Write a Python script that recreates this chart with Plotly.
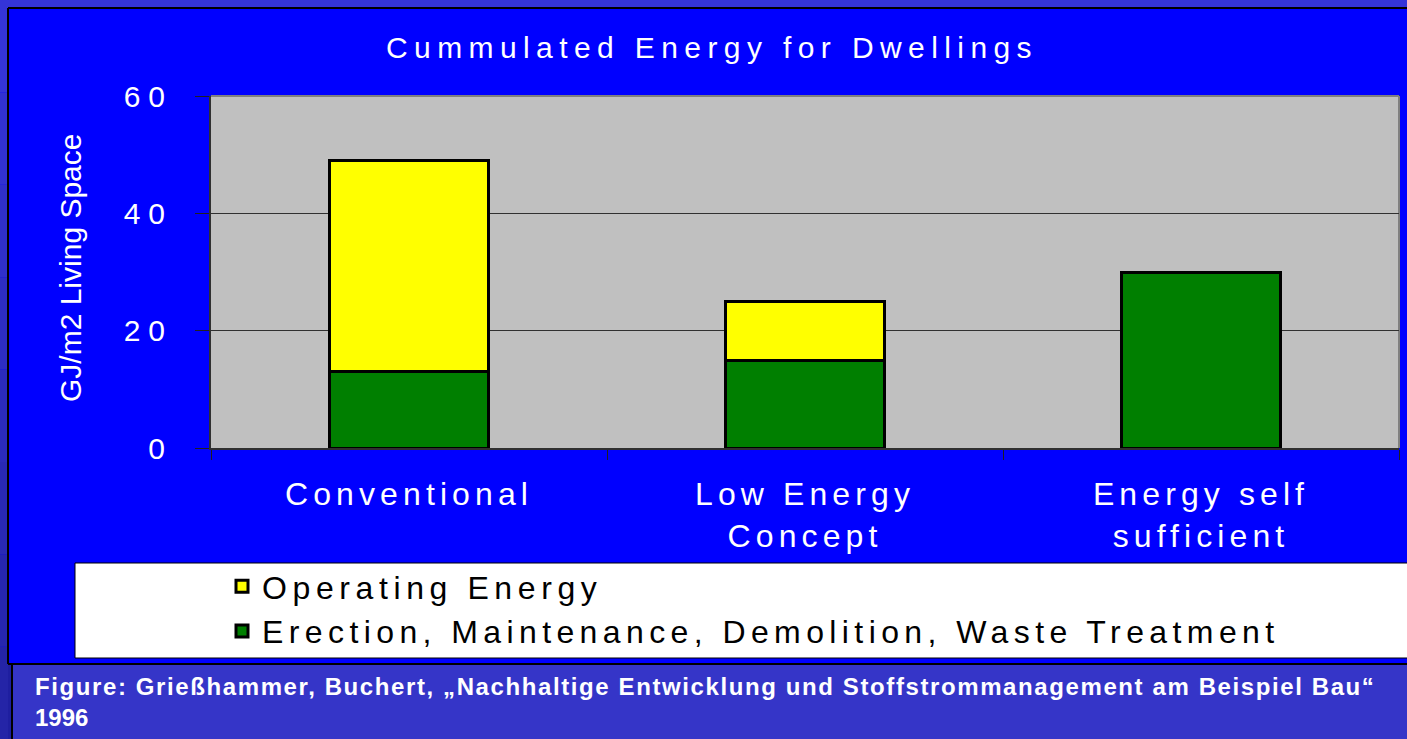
import plotly.graph_objects as go

# ---------------- data ----------------
categories = ["Conventional", "Low Energy<br>Concept", "Energy self<br>sufficient"]
erection_values = [13, 15, 30]
operating_values = [36, 10, None]
series_names = ["Operating Energy", "Erection, Maintenance, Demolition, Waste Treatment"]
y_tick_values = [0, 20, 40, 60]
y_tick_labels = ["0", "20", "40", "60"]
title_text = "Cummulated Energy for Dwellings"
y_title_text = "GJ/m2 Living Space"
caption_lines = ["Figure: Grießhammer, Buchert, „Nachhaltige Entwicklung und Stoffstrommanagement am Beispiel Bau“", "1996"]

# ---------------- layout geometry ----------------
W, H = 1407, 739
ML, MR, MT, MB = 211, 8, 96, 291
PW, PH = W - ML - MR, H - MT - MB


def px_x(p):
    return (p - ML) / PW


def px_y(p):
    return (H - MB - p) / PH


def spaced(text, px):
    return "<br>".join(
        f'<span style="letter-spacing:{px}px">{line}</span>' for line in text.split("<br>")
    )


FONT = "Liberation Sans, Arial, sans-serif"

fig = go.Figure()
fig.add_trace(go.Bar(
    x=categories, y=erection_values, name=spaced(series_names[1], 5.4),
    marker=dict(color="#007F00", line=dict(color="black", width=3)),
    legendrank=2, legendgroup="b",
))
fig.add_trace(go.Bar(
    x=categories, y=operating_values, name=spaced(series_names[0], 5.6),
    marker=dict(color="#FFFF00", line=dict(color="black", width=3)),
    legendrank=1, legendgroup="a",
))

shapes = []
# slide background pieces around the blue chart area
shapes.append(dict(type="rect", xref="paper", yref="paper", x0=px_x(0), x1=px_x(W + 20),
                   y0=px_y(0 - 20), y1=px_y(8), fillcolor="#3434D8", line_width=0, layer="below"))
steps = 8
for i in range(steps):
    y0p = i * H / steps
    y1p = (i + 1) * H / steps
    c = int(0x34 - i * 2.2)
    b = int(0xD8 - i * 7)
    shapes.append(dict(type="rect", xref="paper", yref="paper", x0=px_x(-20), x1=px_x(8),
                       y0=px_y(y1p), y1=px_y(y0p), fillcolor=f"rgb({c},{c},{b})",
                       line_width=0, layer="below"))
shapes.append(dict(type="rect", xref="paper", yref="paper", x0=px_x(8), x1=px_x(12),
                   y0=px_y(H + 20), y1=px_y(663), fillcolor="rgb(30,30,160)", line_width=0, layer="below"))
shapes.append(dict(type="rect", xref="paper", yref="paper", x0=px_x(12), x1=px_x(W + 20),
                   y0=px_y(H + 20), y1=px_y(664), fillcolor="#3535C8", line_width=0, layer="below"))
# black frame lines
for (x0, y0, x1, y1) in [(8, 8, W + 20, 8), (8, 8, 8, 664), (8, 664, W + 20, 664), (12, 664, 12, H + 20)]:
    shapes.append(dict(type="line", xref="paper", yref="paper", x0=px_x(x0), x1=px_x(x1),
                       y0=px_y(y0), y1=px_y(y1), line=dict(color="black", width=2), layer="below"))
# legend box
shapes.append(dict(type="rect", xref="paper", yref="paper", x0=px_x(75), x1=px_x(W + 20),
                   y0=px_y(658), y1=px_y(563), fillcolor="white",
                   line=dict(color="black", width=1), layer="below"))
# plot area border top/right (gray)
shapes.append(dict(type="line", xref="paper", yref="paper", x0=0, x1=1, y0=1, y1=1,
                   line=dict(color="#808080", width=2), layer="below"))
shapes.append(dict(type="line", xref="paper", yref="paper", x0=1, x1=1, y0=0, y1=1,
                   line=dict(color="#808080", width=2), layer="below"))

caption_html = ('<b><span style="letter-spacing:1.6px">' + caption_lines[0] + '</span><br>'
                + caption_lines[1] + '</b>')

annotations = [
    dict(text=y_title_text, xref="paper", yref="paper", x=px_x(70), y=px_y(268),
         xanchor="center", yanchor="middle", textangle=-90, showarrow=False,
         font=dict(family=FONT, size=30, color="white")),
    dict(text=caption_html, xref="paper", yref="paper",
         x=px_x(33), y=px_y(671), xanchor="left", yanchor="top", align="left", showarrow=False,
         font=dict(family=FONT, size=24, color="white")),
]

fig.update_layout(
    width=W, height=H,
    margin=dict(l=ML, r=MR, t=MT, b=MB, pad=0),
    paper_bgcolor="#0000FF",
    plot_bgcolor="#C0C0C0",
    barmode="stack",
    bargap=0.596,
    title=dict(text=spaced(title_text, 6.4), x=712 / W, xref="container",
               xanchor="center", y=1 - 47 / H, yanchor="middle",
               font=dict(family=FONT, size=30, color="white")),
    showlegend=True,
    legend=dict(
        x=px_x(222), y=px_y(559), xanchor="left", yanchor="top",
        bgcolor="rgba(0,0,0,0)", borderwidth=0,
        font=dict(family=FONT, size=32, color="black"),
        traceorder="normal", tracegroupgap=5,
    ),
    shapes=shapes,
    annotations=annotations,
    xaxis=dict(
        tickmode="array", tickvals=categories,
        ticktext=[spaced(c, 5.1) for c in categories],
        tickson="boundaries", ticks="outside", ticklen=10, tickcolor="#202020", tickwidth=1,
        showline=True, linecolor="#303030", linewidth=2,
        showgrid=False, ticklabelstandoff=17,
        tickfont=dict(family=FONT, size=32, color="white"),
        fixedrange=True,
    ),
    yaxis=dict(
        range=[0, 60], tickmode="array", tickvals=y_tick_values,
        ticktext=[spaced(t, 8) for t in y_tick_labels],
        ticks="outside", ticklen=14, tickcolor="#202020", tickwidth=1,
        showline=True, linecolor="#303030", linewidth=2,
        showgrid=True, gridcolor="#303030", gridwidth=1,
        zeroline=False, ticklabelstandoff=16,
        tickfont=dict(family=FONT, size=30, color="white"),
        fixedrange=True,
    ),
)

fig.write_html(
    "out.html",
    config={"displayModeBar": False},
    post_script="document.body.style.margin='0';document.body.style.overflow='hidden';",
)
